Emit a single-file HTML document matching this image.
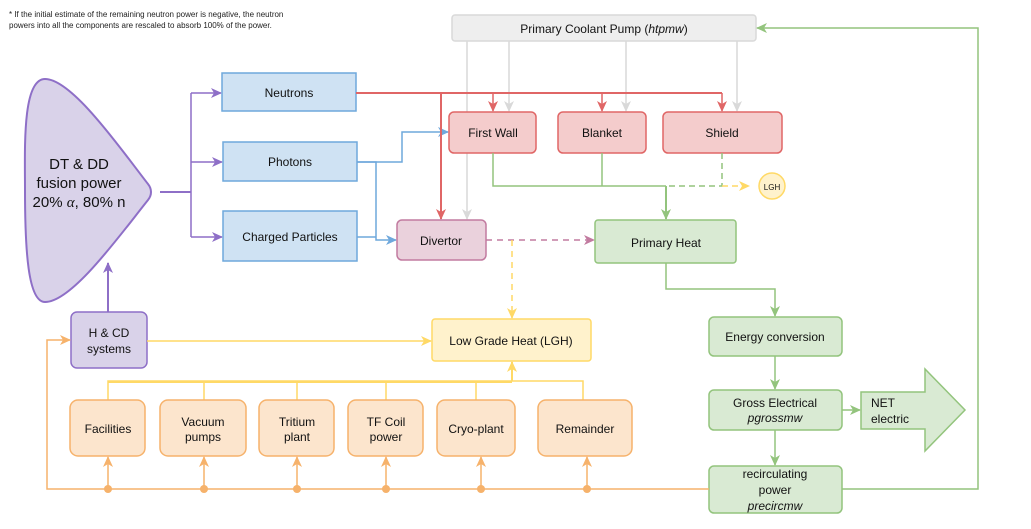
<!DOCTYPE html>
<html><head><meta charset="utf-8"><style>
body{margin:0;background:#fff}
svg{display:block;font-family:"Liberation Sans",Arial,sans-serif}
</style></head><body>
<svg width="1031" height="529" viewBox="0 0 1031 529" xmlns="http://www.w3.org/2000/svg">
<defs>
<marker id="ap" markerWidth="12" markerHeight="12" refX="10" refY="6" orient="auto" markerUnits="userSpaceOnUse"><path d="M0,1 L11,6 L0,11 L3,6z" fill="#8e6fc7"/></marker>
<marker id="ab" markerWidth="12" markerHeight="12" refX="10" refY="6" orient="auto" markerUnits="userSpaceOnUse"><path d="M0,1 L11,6 L0,11 L3,6z" fill="#6fa8dc"/></marker>
<marker id="ar" markerWidth="12" markerHeight="12" refX="10" refY="6" orient="auto" markerUnits="userSpaceOnUse"><path d="M0,1 L11,6 L0,11 L3,6z" fill="#e06666"/></marker>
<marker id="ag" markerWidth="12" markerHeight="12" refX="10" refY="6" orient="auto" markerUnits="userSpaceOnUse"><path d="M0,1 L11,6 L0,11 L3,6z" fill="#d9d9d9"/></marker>
<marker id="agr" markerWidth="12" markerHeight="12" refX="10" refY="6" orient="auto" markerUnits="userSpaceOnUse"><path d="M0,1 L11,6 L0,11 L3,6z" fill="#93c47d"/></marker>
<marker id="ay" markerWidth="12" markerHeight="12" refX="10" refY="6" orient="auto" markerUnits="userSpaceOnUse"><path d="M0,1 L11,6 L0,11 L3,6z" fill="#ffd966"/></marker>
<marker id="apk" markerWidth="12" markerHeight="12" refX="10" refY="6" orient="auto" markerUnits="userSpaceOnUse"><path d="M0,1 L11,6 L0,11 L3,6z" fill="#c27ba0"/></marker>
<marker id="ao" markerWidth="12" markerHeight="12" refX="10" refY="6" orient="auto" markerUnits="userSpaceOnUse"><path d="M0,1 L11,6 L0,11 L3,6z" fill="#f6b26b"/></marker>
</defs>
<text x="9" y="17" font-size="8" fill="#222">* If the initial estimate of the remaining neutron power is negative, the neutron</text>
<text x="9" y="28" font-size="8" fill="#222">powers into all the components are rescaled to absorb 100% of the power.</text>

<path d="M45,79 C22,79 25,150 25,190 C25,250 28,302 45,302 C72,302 120,235 148,200 C152,195 152,189 148,184 C120,148 72,79 45,79Z" fill="#d9d2e9" stroke="#8e6fc7" stroke-width="2"/>
<text x="79" y="169" font-size="15" text-anchor="middle" fill="#111">DT &amp; DD</text>
<text x="79" y="188" font-size="15" text-anchor="middle" fill="#111">fusion power</text>
<text x="79" y="207" font-size="15" text-anchor="middle" fill="#111">20% <tspan font-family="Liberation Serif" font-style="italic">α</tspan>, 80% n</text>

<g fill="none" stroke="#8e6fc7" stroke-width="2">
<path d="M160,192 H191"/>
<path d="M191,93 V237" stroke-width="1.5"/>
<path d="M191,93 H221" marker-end="url(#ap)" stroke-width="1.5"/>
<path d="M191,162 H222" marker-end="url(#ap)" stroke-width="1.5"/>
<path d="M191,237 H222" marker-end="url(#ap)" stroke-width="1.5"/>
<path d="M108,312 V263" marker-end="url(#ap)"/>
</g>

<g fill="#cfe2f3" stroke="#6fa8dc" stroke-width="1.5">
<rect x="222" y="73" width="134" height="38"/>
<rect x="223" y="142" width="134" height="39"/>
<rect x="223" y="211" width="134" height="50"/>
</g>
<g font-size="12" text-anchor="middle" fill="#111">
<text x="289" y="97">Neutrons</text>
<text x="290" y="166">Photons</text>
<text x="290" y="241">Charged Particles</text>
</g>

<g fill="none" stroke="#6fa8dc" stroke-width="1.5">
<path d="M357,162 H402 V132 H448" marker-end="url(#ab)"/>
<path d="M357,162 H376 V240 H396" marker-end="url(#ab)"/>
<path d="M357,237 H376"/>
</g>

<rect x="452" y="15" width="304" height="26" rx="3" fill="#eeeeee" stroke="#d9d9d9" stroke-width="1.5"/>
<text x="604" y="33" font-size="12" text-anchor="middle" fill="#111">Primary Coolant Pump (<tspan font-style="italic">htpmw</tspan>)</text>
<g fill="none" stroke="#d9d9d9" stroke-width="1.5">
<path d="M467,41 V219" marker-end="url(#ag)"/>
<path d="M509,41 V111" marker-end="url(#ag)"/>
<path d="M626,41 V111" marker-end="url(#ag)"/>
<path d="M737,41 V111" marker-end="url(#ag)"/>
</g>

<g fill="none" stroke="#e06666" stroke-width="1.5">
<path d="M356,93 H722" stroke-width="2"/>
<path d="M493,93 V111" marker-end="url(#ar)"/>
<path d="M602,93 V111" marker-end="url(#ar)"/>
<path d="M722,93 V111" marker-end="url(#ar)"/>
<path d="M441,93 V219" marker-end="url(#ar)" stroke-width="2"/>
</g>

<g fill="#f4cccc" stroke="#e06666" stroke-width="1.5">
<rect x="449" y="112" width="87" height="41" rx="5"/>
<rect x="558" y="112" width="88" height="41" rx="5"/>
<rect x="663" y="112" width="119" height="41" rx="5"/>
</g>
<g font-size="12" text-anchor="middle" fill="#111">
<text x="493" y="137">First Wall</text>
<text x="602" y="137">Blanket</text>
<text x="722" y="137">Shield</text>
</g>

<g fill="none" stroke="#93c47d" stroke-width="1.5">
<path d="M493,153 V186 H666"/>
<path d="M602,153 V186"/>
<path d="M666,186 V219" marker-end="url(#agr)" stroke-width="2"/>
<path d="M722,153 V186 H666" stroke-dasharray="6,4"/>
</g>
<path d="M722,186 H749" fill="none" stroke="#ffd966" stroke-width="1.5" stroke-dasharray="6,4" marker-end="url(#ay)"/>
<circle cx="772" cy="186" r="13" fill="#fff2cc" stroke="#ffd966" stroke-width="1.5"/>
<text x="772" y="190" font-size="8" text-anchor="middle" fill="#111">LGH</text>

<rect x="397" y="220" width="89" height="40" rx="5" fill="#ead1dc" stroke="#c27ba0" stroke-width="1.5"/>
<text x="441" y="245" font-size="12" text-anchor="middle" fill="#111">Divertor</text>
<path d="M486,240 H594" fill="none" stroke="#c27ba0" stroke-width="1.5" stroke-dasharray="6,5" marker-end="url(#apk)"/>
<path d="M512,240 V318" fill="none" stroke="#ffd966" stroke-width="1.5" stroke-dasharray="6,5" marker-end="url(#ay)"/>

<rect x="595" y="220" width="141" height="43" rx="3" fill="#d9ead3" stroke="#93c47d" stroke-width="1.5"/>
<text x="666" y="247" font-size="12" text-anchor="middle" fill="#111">Primary Heat</text>

<g fill="none" stroke="#93c47d" stroke-width="1.5">
<path d="M666,263 V289 H775 V316" marker-end="url(#agr)"/>
<path d="M775,356 V389" marker-end="url(#agr)"/>
<path d="M775,430 V465" marker-end="url(#agr)"/>
<path d="M842,410 H860" marker-end="url(#agr)"/>
<path d="M842,489 H978 V28 H757" marker-end="url(#agr)"/>
</g>
<g fill="#d9ead3" stroke="#93c47d" stroke-width="1.5">
<rect x="709" y="317" width="133" height="39" rx="5"/>
<rect x="709" y="390" width="133" height="40" rx="5"/>
<rect x="709" y="466" width="133" height="47" rx="5"/>
<polygon points="861,392 925,392 925,369 965,410 925,451 925,429 861,429"/>
</g>
<g font-size="12" text-anchor="middle" fill="#111">
<text x="775" y="341">Energy conversion</text>
<text x="775" y="407">Gross Electrical</text>
<text x="775" y="422" font-style="italic">pgrossmw</text>
<text x="775" y="478">recirculating</text>
<text x="775" y="494">power</text>
<text x="775" y="510" font-style="italic">precircmw</text>
<text x="871" y="407" text-anchor="start">NET</text>
<text x="871" y="423" text-anchor="start">electric</text>
</g>

<rect x="432" y="319" width="159" height="42" rx="3" fill="#fff2cc" stroke="#ffd966" stroke-width="1.5"/>
<text x="511" y="345" font-size="12" text-anchor="middle" fill="#111">Low Grade Heat (LGH)</text>

<rect x="71" y="312" width="76" height="56" rx="6" fill="#d9d2e9" stroke="#8e6fc7" stroke-width="1.5"/>
<text x="109" y="337" font-size="12" text-anchor="middle" fill="#111">H &amp; CD</text>
<text x="109" y="353" font-size="12" text-anchor="middle" fill="#111">systems</text>
<path d="M147,341 H431" fill="none" stroke="#ffd966" stroke-width="1.5" marker-end="url(#ay)"/>

<g fill="none" stroke="#ffd966" stroke-width="1.5">
<path d="M108,400 V381 H583 V400"/>
<path d="M204,381 V400 M297,381 V400 M386,381 V400 M476,381 V400"/>
<path d="M108,382 H512" stroke-width="2"/>
<path d="M512,381 V362" marker-end="url(#ay)" stroke-width="2"/>
</g>

<g fill="#fce5cd" stroke="#f6b26b" stroke-width="1.5">
<rect x="70" y="400" width="75" height="56" rx="8"/>
<rect x="160" y="400" width="86" height="56" rx="8"/>
<rect x="259" y="400" width="75" height="56" rx="8"/>
<rect x="348" y="400" width="75" height="56" rx="8"/>
<rect x="437" y="400" width="78" height="56" rx="8"/>
<rect x="538" y="400" width="94" height="56" rx="8"/>
</g>
<g font-size="12" text-anchor="middle" fill="#111">
<text x="108" y="433">Facilities</text>
<text x="203" y="426">Vacuum</text><text x="203" y="441">pumps</text>
<text x="297" y="426">Tritium</text><text x="297" y="441">plant</text>
<text x="386" y="426">TF Coil</text><text x="386" y="441">power</text>
<text x="476" y="433">Cryo-plant</text>
<text x="585" y="433">Remainder</text>
</g>

<g fill="none" stroke="#f6b26b" stroke-width="1.5">
<path d="M709,489 H47 V340 H70" marker-end="url(#ao)"/>
<path d="M108,489 V457" marker-end="url(#ao)"/>
<path d="M204,489 V457" marker-end="url(#ao)"/>
<path d="M297,489 V457" marker-end="url(#ao)"/>
<path d="M386,489 V457" marker-end="url(#ao)"/>
<path d="M481,489 V457" marker-end="url(#ao)"/>
<path d="M587,489 V457" marker-end="url(#ao)"/>
</g>
<g fill="#f6b26b">
<circle cx="108" cy="489" r="4"/><circle cx="204" cy="489" r="4"/><circle cx="297" cy="489" r="4"/>
<circle cx="386" cy="489" r="4"/><circle cx="481" cy="489" r="4"/><circle cx="587" cy="489" r="4"/>
</g>
</svg>
</body></html>
